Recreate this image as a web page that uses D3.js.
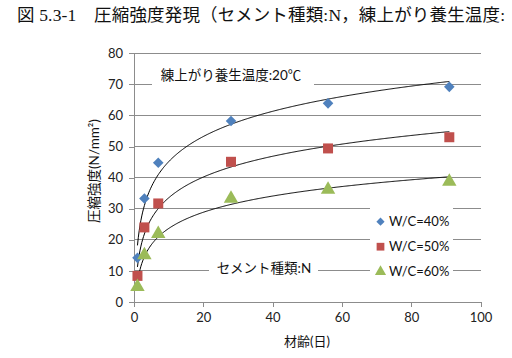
<!DOCTYPE html>
<html><head><meta charset="utf-8">
<script src="https://cdn.jsdelivr.net/npm/d3@7"></script>
<style>
html,body{margin:0;padding:0;background:#fff;}
svg{display:block;}
</style></head>
<body>
<script>
const ages = [1, 3, 7, 28, 56, 91];
const seriesNames = ["W/C=40%", "W/C=50%", "W/C=60%"];
const wc40 = [14.2, 33.3, 44.8, 58.2, 63.9, 69.2];
const wc50 = [8.4, 24.0, 31.7, 45.1, 49.4, 53.0];
const wc60 = [4.9, 15.1, 21.9, 33.3, 36.2, 38.7];
const colors = ["#4F81BD", "#C0504D", "#9BBB59"];
const xTicks = [0, 20, 40, 60, 80, 100];
const yTicks = [0, 10, 20, 30, 40, 50, 60, 70, 80];
const titleText = "図 5.3-1　圧縮強度発現（セメント種類:N，練上がり養生温度:";
const xLabel = "材齢(日)";
const yLabel = "圧縮強度(N/mm²)";
const note1 = "練上がり養生温度:20℃";
const note2 = "セメント種類:N";

const W = 512, H = 358;
const svg = d3.select("body").append("svg").attr("width", W).attr("height", H);
const font = "Lato, 'Noto Sans CJK JP', sans-serif";
const gridColor = "#8c8c8c";

const x = d3.scaleLinear().domain([0, 100]).range([134, 480.5]);
const y = d3.scaleLinear().domain([0, 80]).range([302, 53.3]);

// title
svg.append("text").attr("x", 17).attr("y", 21)
  .attr("font-family", "'Liberation Serif', 'Noto Sans CJK JP', serif")
  .attr("font-size", 17.5).attr("textLength", 488).attr("lengthAdjust", "spacing")
  .attr("fill", "#111").text(titleText);

// gridlines
svg.append("g").selectAll("line").data(yTicks.filter(d => d > 0)).join("line")
  .attr("x1", x(0)).attr("x2", x(100)).attr("y1", d => y(d)).attr("y2", d => y(d))
  .attr("stroke", gridColor).attr("stroke-width", 1).attr("shape-rendering", "crispEdges");

// axes
const xAxis = svg.append("g").attr("transform", `translate(0,${y(0)})`)
  .call(d3.axisBottom(x).tickValues(xTicks).tickSize(5).tickPadding(6).tickFormat(d3.format("d")));
const yAxis = svg.append("g").attr("transform", `translate(${x(0)},0)`)
  .call(d3.axisLeft(y).tickValues(yTicks).tickSize(5).tickPadding(6).tickFormat(d3.format("d")));
[xAxis, yAxis].forEach(a => {
  a.selectAll("path,line").attr("stroke", gridColor).attr("shape-rendering", "crispEdges");
  a.selectAll("text").attr("font-family", font).attr("font-size", 13).attr("fill", "#222");
});
xAxis.select(".domain").attr("d", `M${x(0)},0H${x(100)}`);
yAxis.select(".domain").attr("d", `M0,${y(80)}V${y(0)}`);

// white boxes for notes
function note(text, cx, cy, bx0, bx1) {
  svg.append("rect").attr("x", bx0).attr("y", cy - 12).attr("width", bx1 - bx0).attr("height", 24).attr("fill", "#fff");
  svg.append("text").attr("x", cx).attr("y", cy).attr("dy", "0.35em").attr("text-anchor", "middle")
    .attr("font-family", font).attr("font-size", 13.5).attr("fill", "#111").text(text);
}
note(note1, 231, 75, 152, 314);
note(note2, 264, 268, 209, 318);

// legend box
svg.append("rect").attr("x", 370).attr("y", 203).attr("width", 83).attr("height", 86).attr("fill", "#fff");

// trendlines (logarithmic least squares, as in the original spreadsheet)
const data = [wc40, wc50, wc60];
data.forEach((vals, i) => {
  const lx = ages.map(Math.log);
  const mx = d3.mean(lx), my = d3.mean(vals);
  const sxy = d3.sum(lx, (v, k) => (v - mx) * (vals[k] - my));
  const sxx = d3.sum(lx, v => (v - mx) ** 2);
  const a = sxy / sxx, b = my - a * mx;
  const pts = d3.range(1, 91.01, 0.25);
  svg.append("path").datum(pts)
    .attr("d", d3.line().x(d => x(d)).y(d => y(a * Math.log(d) + b)))
    .attr("fill", "none").attr("stroke", "#000").attr("stroke-width", 1);
});

// markers
const symbols = [d3.symbolSquare, d3.symbolSquare, d3.symbolTriangle];
const rot = [45, 0, 0];
const sizes = [56, 100, 90];
data.forEach((vals, i) => {
  svg.append("g").selectAll("path").data(vals).join("path")
    .attr("transform", (d, k) => `translate(${x(ages[k])},${y(d)}) rotate(${rot[i]})`)
    .attr("d", d3.symbol().type(symbols[i]).size(sizes[i]))
    .attr("fill", colors[i]);
});

// legend
seriesNames.forEach((n, i) => {
  const ly = 221.7 + i * 25;
  svg.append("path").attr("transform", `translate(380.5,${ly}) rotate(${rot[i]})`)
    .attr("d", d3.symbol().type(symbols[i]).size(sizes[i] * 0.6)).attr("fill", colors[i]);
  svg.append("text").attr("x", 389).attr("y", ly).attr("dy", "0.35em")
    .attr("font-family", font).attr("font-size", 13).attr("fill", "#111").text(n);
});

// axis titles
svg.append("text").attr("x", 307).attr("y", 341).attr("dy", "0.35em").attr("text-anchor", "middle")
  .attr("font-family", font).attr("font-size", 13).attr("fill", "#111").text(xLabel);
svg.append("text").attr("transform", "translate(94,171) rotate(-90)").attr("dy", "0.35em").attr("text-anchor", "middle")
  .attr("font-family", font).attr("font-size", 13.5).attr("fill", "#111").text(yLabel);
</script>
</body></html>
